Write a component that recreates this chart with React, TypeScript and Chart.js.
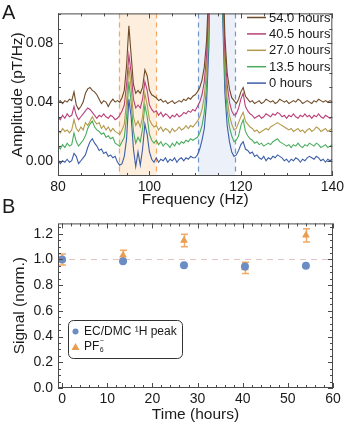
import React, { useEffect, useRef } from "react";
import { Chart, registerables } from "chart.js";
Chart.register(...registerables);

// ---------- Panel A data ----------
const freq = [
  80, 80.5, 81, 81.5, 82, 82.5, 83, 83.5, 84, 84.5,
  85, 85.5, 86, 86.5, 87, 87.5, 88, 88.5, 89, 89.5,
  90, 90.5, 91, 91.5, 92, 92.5, 93, 93.5, 94, 94.5,
  95, 95.5, 96, 96.5, 97, 97.5, 98, 98.5, 99, 99.5,
  100, 100.5, 101, 101.5, 102, 102.5, 103, 103.5, 104, 104.5,
  105, 105.5, 106, 106.5, 107, 107.5, 108, 108.5, 109, 109.5,
  110, 110.5, 111, 111.5, 112, 112.5, 113, 113.5, 114, 114.5,
  115, 115.5, 116, 116.5, 117, 117.5, 118, 118.5, 119, 119.5,
  120, 120.5, 121, 121.5, 122, 122.5, 123, 123.5, 124, 124.5,
  125, 125.5, 126, 126.5, 127, 127.5, 128, 128.5, 129, 129.5,
  130, 130.5, 131, 131.5, 132, 132.5, 133, 133.5, 134, 134.5,
  135, 135.5, 136, 136.5, 137, 137.5, 138, 138.5, 139, 139.5,
  140,
];

const amp54h = [
  0.040, 0.041, 0.039, 0.041, 0.040, 0.042, 0.041, 0.047, 0.038, 0.035,
  0.037, 0.040, 0.046, 0.049, 0.050, 0.048, 0.047, 0.045, 0.042, 0.039,
  0.041, 0.040, 0.037, 0.040, 0.042, 0.040, 0.041, 0.040, 0.043, 0.048,
  0.065, 0.092, 0.072, 0.052, 0.046, 0.048, 0.046, 0.050, 0.062, 0.058,
  0.048, 0.045, 0.044, 0.043, 0.041, 0.042, 0.040, 0.041, 0.039, 0.040,
  0.041, 0.039, 0.040, 0.041, 0.040, 0.042, 0.041, 0.043, 0.042, 0.044,
  0.045, 0.047, 0.050, 0.055, 0.064, 0.082, 0.12, 0.22, 0.44, 0.64,
  0.54, 0.29, 0.14, 0.085, 0.060, 0.049, 0.043, 0.041, 0.039, 0.042,
  0.047, 0.050, 0.044, 0.042, 0.040, 0.041, 0.039, 0.040, 0.041, 0.039,
  0.040, 0.042, 0.041, 0.040, 0.041, 0.039, 0.040, 0.042, 0.041, 0.040,
  0.041, 0.039, 0.040, 0.041, 0.040, 0.042, 0.041, 0.039, 0.040, 0.041,
  0.040, 0.039, 0.041, 0.040, 0.042, 0.041, 0.040, 0.041, 0.040, 0.041,
  0.040,
];

const amp40h = [
  0.030, 0.028, 0.031, 0.029, 0.032, 0.030, 0.031, 0.037, 0.031, 0.028,
  0.030, 0.032, 0.034, 0.036, 0.035, 0.033, 0.031, 0.029, 0.031, 0.030,
  0.032, 0.030, 0.029, 0.031, 0.030, 0.028, 0.029, 0.031, 0.034, 0.038,
  0.052, 0.072, 0.060, 0.042, 0.036, 0.038, 0.036, 0.042, 0.054, 0.048,
  0.038, 0.035, 0.033, 0.034, 0.031, 0.033, 0.030, 0.032, 0.031, 0.029,
  0.031, 0.030, 0.032, 0.030, 0.031, 0.033, 0.032, 0.034, 0.033, 0.035,
  0.034, 0.037, 0.040, 0.045, 0.054, 0.072, 0.11, 0.21, 0.43, 0.63,
  0.53, 0.28, 0.13, 0.075, 0.052, 0.040, 0.034, 0.031, 0.032, 0.036,
  0.042, 0.046, 0.037, 0.034, 0.032, 0.031, 0.029, 0.030, 0.031, 0.029,
  0.030, 0.032, 0.031, 0.030, 0.032, 0.031, 0.033, 0.032, 0.030, 0.031,
  0.029, 0.031, 0.030, 0.032, 0.030, 0.029, 0.031, 0.030, 0.032, 0.030,
  0.031, 0.029, 0.031, 0.030, 0.032, 0.030, 0.029, 0.031, 0.030, 0.029,
  0.030,
];

const amp27h = [
  0.021, 0.019, 0.022, 0.020, 0.021, 0.019, 0.021, 0.028, 0.022, 0.020,
  0.023, 0.021, 0.026, 0.024, 0.027, 0.030, 0.027, 0.025, 0.026, 0.022,
  0.024, 0.021, 0.023, 0.020, 0.022, 0.020, 0.019, 0.018, 0.021, 0.025,
  0.040, 0.064, 0.050, 0.030, 0.024, 0.027, 0.023, 0.030, 0.046, 0.038,
  0.028, 0.025, 0.023, 0.024, 0.021, 0.023, 0.020, 0.022, 0.021, 0.019,
  0.022, 0.020, 0.021, 0.023, 0.021, 0.022, 0.024, 0.022, 0.024, 0.023,
  0.025, 0.027, 0.030, 0.035, 0.044, 0.062, 0.10, 0.20, 0.42, 0.62,
  0.52, 0.27, 0.12, 0.066, 0.042, 0.031, 0.025, 0.021, 0.022, 0.026,
  0.030, 0.033, 0.027, 0.025, 0.023, 0.022, 0.020, 0.021, 0.019, 0.020,
  0.021, 0.022, 0.021, 0.023, 0.024, 0.025, 0.026, 0.025, 0.024, 0.023,
  0.022, 0.021, 0.022, 0.020, 0.021, 0.022, 0.020, 0.021, 0.019, 0.021,
  0.022, 0.020, 0.021, 0.023, 0.022, 0.020, 0.021, 0.022, 0.020, 0.021,
  0.022,
];

const amp13h = [
  0.010, 0.008, 0.011, 0.009, 0.012, 0.010, 0.011, 0.019, 0.013, 0.010,
  0.012, 0.014, 0.017, 0.022, 0.025, 0.027, 0.023, 0.021, 0.020, 0.018,
  0.019, 0.016, 0.017, 0.015, 0.016, 0.012, 0.011, 0.010, 0.013, 0.016,
  0.030, 0.054, 0.040, 0.020, 0.012, 0.016, 0.013, 0.022, 0.038, 0.030,
  0.018, 0.014, 0.012, 0.014, 0.011, 0.013, 0.010, 0.012, 0.011, 0.009,
  0.012, 0.010, 0.013, 0.011, 0.013, 0.012, 0.014, 0.013, 0.015, 0.014,
  0.015, 0.016, 0.019, 0.024, 0.033, 0.051, 0.09, 0.19, 0.42, 0.61,
  0.51, 0.26, 0.11, 0.057, 0.034, 0.023, 0.017, 0.013, 0.014, 0.017,
  0.024, 0.028, 0.020, 0.017, 0.015, 0.014, 0.012, 0.013, 0.011, 0.012,
  0.010, 0.011, 0.012, 0.011, 0.013, 0.014, 0.015, 0.013, 0.012, 0.011,
  0.010, 0.011, 0.009, 0.011, 0.010, 0.012, 0.010, 0.009, 0.011, 0.010,
  0.012, 0.011, 0.010, 0.012, 0.011, 0.009, 0.010, 0.011, 0.009, 0.010,
  0.011,
];

const amp0h = [
  0.001, -0.002, 0.000, -0.001, 0.001, -0.001, 0.000, 0.005, 0.003, -0.002,
  0.000, 0.002, 0.004, 0.009, 0.013, 0.015, 0.012, 0.010, 0.007, 0.008,
  0.005, 0.006, 0.003, 0.004, 0.002, 0.003, -0.001, -0.003, -0.002, 0.003,
  0.015, 0.042, 0.030, 0.008, -0.004, 0.006, -0.003, 0.008, 0.025, 0.018,
  0.006, 0.001, -0.001, 0.002, -0.001, 0.001, 0.000, 0.002, -0.001, 0.001,
  0.000, 0.002, -0.001, 0.001, 0.002, 0.000, 0.002, 0.001, 0.003, 0.002,
  0.002, 0.004, 0.008, 0.014, 0.022, 0.040, 0.078, 0.17, 0.40, 0.60,
  0.50, 0.24, 0.10, 0.046, 0.024, 0.013, 0.006, 0.003, 0.004, 0.007,
  0.011, 0.013, 0.008, 0.007, 0.005, 0.006, 0.003, 0.004, 0.002, 0.001,
  0.003, 0.000, 0.002, 0.001, 0.003, 0.002, 0.004, 0.003, 0.002, 0.000,
  0.001, -0.001, 0.001, 0.000, 0.002, 0.001, -0.001, 0.001, 0.000, 0.002,
  0.003, 0.002, 0.001, 0.003, 0.002, 0.000, 0.001, -0.001, 0.001, 0.000,
  0.001,
];

const spectraLabels = ["54.0 hours", "40.5 hours", "27.0 hours", "13.5 hours", "0 hours"];
const spectraColors = ["#6e4a26", "#b8417a", "#b39a4c", "#48ad5c", "#3d5ea8"];
const orangeBand = [93.3, 101.5];
const blueBand = [110.7, 118.7];
const freqTicks = [80, 100, 120, 140];
const ampTicks = [0, 0.04, 0.08];

// ---------- Panel B data ----------
const timeHours = [0, 13.5, 27, 40.5, 54];
const ecdmcSignal = [1.0, 0.985, 0.955, 0.945, 0.95];
const pf6Signal = [1.0, 1.033, 1.147, 0.934, 1.187];
const pf6Error = [0.043, 0.039, 0.048, 0.043, 0.052];
const timeTicks = [0, 10, 20, 30, 40, 50, 60];
const signalTicks = [0, 0.2, 0.4, 0.6, 0.8, 1.0, 1.2];
const referenceLevel = 1.0;

const FONT = "'Liberation Sans', Arial, sans-serif";
const TEXT = "#1a1a1a";
const FRAME = "#4a4a4a";

const framePlugin = {
  id: "frame",
  afterDatasetsDraw(chart: any, _args: any, opts: any) {
    const { ctx, chartArea } = chart;
    const { left, right, top, bottom } = chartArea;
    const xs = chart.scales.x;
    const ys = chart.scales.y;
    ctx.save();
    ctx.strokeStyle = FRAME;
    ctx.lineWidth = 1;
    const line = (x1: number, y1: number, x2: number, y2: number) => {
      ctx.beginPath();
      ctx.moveTo(x1, y1);
      ctx.lineTo(x2, y2);
      ctx.stroke();
    };
    const xStart = Math.ceil(xs.min / opts.xMinor) * opts.xMinor;
    for (let v = xStart; v <= xs.max + 1e-9; v += opts.xMinor) {
      const px = Math.round(xs.getPixelForValue(v)) + 0.5;
      const isMajor = xs.ticks.some((t: any) => Math.abs(t.value - v) < 1e-6);
      const len = isMajor ? 5 : 3;
      line(px, bottom, px, bottom - len);
      line(px, top, px, top + len);
    }
    const yStart = Math.ceil((ys.min - 1e-9) / opts.yMinor) * opts.yMinor;
    for (let v = yStart; v <= ys.max + 1e-9; v += opts.yMinor) {
      const py = Math.round(ys.getPixelForValue(v)) + 0.5;
      const isMajor = ys.ticks.some((t: any) => Math.abs(t.value - v) < 1e-6);
      const len = isMajor ? 5 : 3;
      line(left, py, left + len, py);
      line(right, py, right - len, py);
    }
    ctx.strokeRect(left + 0.5, top + 0.5, right - left - 1, bottom - top - 1);
    ctx.restore();
  },
};

const bandsPlugin = {
  id: "bands",
  beforeDatasetsDraw(chart: any) {
    const { ctx, chartArea } = chart;
    const xs = chart.scales.x;
    const { top, bottom } = chartArea;
    const bands = [
      { r: orangeBand, fill: "#fdeedd", edge: "#f4a862" },
      { r: blueBand, fill: "#ecf0f8", edge: "#7196ca" },
    ];
    ctx.save();
    for (const b of bands) {
      const x1 = xs.getPixelForValue(b.r[0]);
      const x2 = xs.getPixelForValue(b.r[1]);
      ctx.fillStyle = b.fill;
      ctx.fillRect(x1, top, x2 - x1, bottom - top);
      ctx.strokeStyle = b.edge;
      ctx.lineWidth = 1.2;
      ctx.setLineDash([5, 4]);
      for (const x of [x1, x2]) {
        ctx.beginPath();
        ctx.moveTo(Math.round(x) + 0.5, top);
        ctx.lineTo(Math.round(x) + 0.5, bottom);
        ctx.stroke();
      }
    }
    ctx.restore();
  },
};

const legendAPlugin = {
  id: "legendA",
  afterDraw(chart: any) {
    const { ctx } = chart;
    ctx.save();
    ctx.font = `13px ${FONT}`;
    ctx.textBaseline = "middle";
    ctx.textAlign = "left";
    chart.data.datasets.forEach((ds: any, i: number) => {
      const y = 17.5 + i * 16.4;
      ctx.strokeStyle = ds.borderColor;
      ctx.lineWidth = 1.5;
      ctx.beginPath();
      ctx.moveTo(247, y);
      ctx.lineTo(266, y);
      ctx.stroke();
      ctx.fillStyle = TEXT;
      ctx.fillText(ds.label, 269, y + 0.5);
    });
    ctx.restore();
  },
};

const refLinePlugin = {
  id: "refLine",
  beforeDatasetsDraw(chart: any) {
    const { ctx, chartArea } = chart;
    const ys = chart.scales.y;
    const y = Math.round(ys.getPixelForValue(referenceLevel)) + 0.5;
    ctx.save();
    ctx.strokeStyle = "rgba(215, 170, 170, 0.7)";
    ctx.lineWidth = 1;
    ctx.setLineDash([6, 5]);
    ctx.beginPath();
    ctx.moveTo(chartArea.left, y);
    ctx.lineTo(chartArea.right, y);
    ctx.stroke();
    ctx.restore();
  },
};

const errorBarPlugin = {
  id: "errorBars",
  beforeDatasetsDraw(chart: any) {
    const { ctx } = chart;
    const xs = chart.scales.x;
    const ys = chart.scales.y;
    ctx.save();
    ctx.strokeStyle = "#f2aa66";
    ctx.lineWidth = 1.5;
    timeHours.forEach((t, i) => {
      const x = Math.round(xs.getPixelForValue(t)) + 0.5;
      const y1 = ys.getPixelForValue(pf6Signal[i] + pf6Error[i]);
      const y2 = ys.getPixelForValue(pf6Signal[i] - pf6Error[i]);
      ctx.beginPath();
      ctx.moveTo(x, y1);
      ctx.lineTo(x, y2);
      ctx.moveTo(x - 3.5, y1);
      ctx.lineTo(x + 3.5, y1);
      ctx.moveTo(x - 3.5, y2);
      ctx.lineTo(x + 3.5, y2);
      ctx.stroke();
    });
    ctx.restore();
  },
};

const legendBPlugin = {
  id: "legendB",
  afterDraw(chart: any) {
    const { ctx } = chart;
    const ds = chart.data.datasets;
    ctx.save();
    ctx.fillStyle = "#ffffff";
    ctx.strokeStyle = "#333";
    ctx.lineWidth = 1;
    ctx.beginPath();
    ctx.roundRect(68.5, 110.5, 114, 38, 5);
    ctx.fill();
    ctx.stroke();
    ctx.fillStyle = ds[0].backgroundColor;
    ctx.beginPath();
    ctx.arc(75.5, 121.5, 3, 0, Math.PI * 2);
    ctx.fill();
    ctx.fillStyle = ds[1].backgroundColor;
    ctx.beginPath();
    ctx.moveTo(75.5, 133);
    ctx.lineTo(79.5, 140);
    ctx.lineTo(71.5, 140);
    ctx.closePath();
    ctx.fill();
    ctx.fillStyle = TEXT;
    ctx.textBaseline = "middle";
    ctx.textAlign = "left";
    ctx.font = `12px ${FONT}`;
    ctx.fillText(ds[0].label, 84, 122);
    ctx.fillText("PF", 84, 137);
    const w = ctx.measureText("PF").width;
    ctx.font = `7px ${FONT}`;
    ctx.fillText("6", 84 + w + 0.5, 140.5);
    ctx.fillText("\u2212", 84 + w + 0.5, 131.5);
    ctx.restore();
  },
};

function fixedTicks(values: number[]) {
  return (scale: any) => {
    scale.ticks = values.map((v) => ({ value: v }));
  };
}

function PanelA() {
  const ref = useRef<HTMLCanvasElement>(null);
  useEffect(() => {
    const series = [amp54h, amp40h, amp27h, amp13h, amp0h];
    const chart = new Chart(ref.current!, {
      type: "line",
      data: {
        datasets: series.map((s, k) => ({
          label: spectraLabels[k],
          data: freq.map((f, i) => ({ x: f, y: s[i] })),
          borderColor: spectraColors[k],
          backgroundColor: spectraColors[k],
          borderWidth: 1.1,
          pointRadius: 0,
          tension: 0,
        })),
      },
      options: {
        responsive: false,
        animation: false,
        events: [],
        layout: { padding: { top: 5, right: 14, left: 0, bottom: 0 } },
        plugins: {
          legend: { display: false },
          tooltip: { enabled: false },
          frame: { xMinor: 5, yMinor: 0.01 },
        } as any,
        scales: {
          x: {
            type: "linear",
            min: 80,
            max: 140,
            afterBuildTicks: fixedTicks(freqTicks),
            afterFit: (s: any) => { s.height = 34; },
            grid: { display: false, drawTicks: false },
            border: { display: false },
            ticks: {
              padding: 3,
              maxRotation: 0,
              autoSkip: false,
              color: TEXT,
              font: { family: FONT, size: 14 },
              callback: (v: any) => String(v),
            },
            title: {
              display: true,
              text: "Frequency (Hz)",
              color: TEXT,
              font: { family: FONT, size: 15.5 },
              padding: { top: 0, bottom: 1 },
            },
          },
          y: {
            type: "linear",
            min: -0.0104,
            max: 0.1005,
            afterBuildTicks: fixedTicks(ampTicks),
            afterFit: (s: any) => { s.width = 58; },
            grid: { display: false, drawTicks: false },
            border: { display: false },
            ticks: {
              padding: 5,
              autoSkip: false,
              color: TEXT,
              font: { family: FONT, size: 14 },
              callback: (v: any) => Number(v).toFixed(2),
            },
            title: {
              display: true,
              text: "Amplitude (pT/Hz)",
              color: TEXT,
              font: { family: FONT, size: 15.5 },
              padding: { top: 8, bottom: 0 },
            },
          },
        },
      },
      plugins: [bandsPlugin, framePlugin, legendAPlugin],
    });
    return () => chart.destroy();
  }, []);
  return <canvas ref={ref} width={347} height={210} style={{ position: "absolute", left: 0, top: 0 }} />;
}

function PanelB() {
  const ref = useRef<HTMLCanvasElement>(null);
  useEffect(() => {
    const chart = new Chart(ref.current!, {
      type: "scatter",
      data: {
        datasets: [
          {
            label: "EC/DMC \u00B9H peak",
            data: timeHours.map((t, i) => ({ x: t, y: ecdmcSignal[i] })),
            backgroundColor: "#6c8cc4",
            borderColor: "#6c8cc4",
            pointStyle: "circle",
            pointRadius: 4,
            borderWidth: 0,
          },
          {
            label: "PF6-",
            data: timeHours.map((t, i) => ({ x: t, y: pf6Signal[i] })),
            backgroundColor: "#e99d50",
            borderColor: "#e99d50",
            pointStyle: "triangle",
            pointRadius: 4.5,
            borderWidth: 0,
          },
        ],
      },
      options: {
        responsive: false,
        animation: false,
        events: [],
        layout: { padding: { top: 12, right: 14, left: 0, bottom: 0 } },
        plugins: {
          legend: { display: false },
          tooltip: { enabled: false },
          frame: { xMinor: 2, yMinor: 0.05 },
        } as any,
        scales: {
          x: {
            type: "linear",
            min: -0.9,
            max: 60,
            afterBuildTicks: fixedTicks(timeTicks),
            afterFit: (s: any) => { s.height = 38; },
            grid: { display: false, drawTicks: false },
            border: { display: false },
            ticks: {
              padding: 3,
              maxRotation: 0,
              autoSkip: false,
              color: TEXT,
              font: { family: FONT, size: 14 },
              callback: (v: any) => String(v),
            },
            title: {
              display: true,
              text: "Time (hours)",
              color: TEXT,
              font: { family: FONT, size: 15.5 },
              padding: { top: 0, bottom: 2 },
            },
          },
          y: {
            type: "linear",
            min: 0,
            max: 1.28,
            afterBuildTicks: fixedTicks(signalTicks),
            afterFit: (s: any) => { s.width = 58; },
            grid: { display: false, drawTicks: false },
            border: { display: false },
            ticks: {
              padding: 5,
              autoSkip: false,
              color: TEXT,
              font: { family: FONT, size: 14 },
              callback: (v: any) => Number(v).toFixed(1),
            },
            title: {
              display: true,
              text: "Signal (norm.)",
              color: TEXT,
              font: { family: FONT, size: 15.5 },
              padding: { top: 10, bottom: 0 },
            },
          },
        },
      },
      plugins: [refLinePlugin, errorBarPlugin, framePlugin, legendBPlugin],
    });
    return () => chart.destroy();
  }, []);
  return <canvas ref={ref} width={347} height={216} style={{ position: "absolute", left: 0, top: 210 }} />;
}

export default function App() {
  const labelStyle: React.CSSProperties = {
    position: "absolute",
    left: 2,
    fontFamily: FONT,
    fontSize: 20,
    lineHeight: "20px",
    color: TEXT,
  };
  return (
    <div style={{ position: "absolute", left: 0, top: 0, width: 347, height: 426, background: "#fff" }}>
      <PanelA />
      <PanelB />
      <div style={{ ...labelStyle, top: 2 }}>A</div>
      <div style={{ ...labelStyle, top: 196 }}>B</div>
    </div>
  );
}
